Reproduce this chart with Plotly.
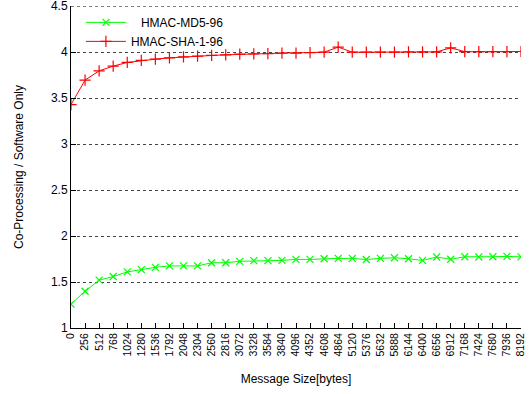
import plotly.graph_objects as go

msg_sizes = list(range(0, 8192 + 1, 256))
tick_labels = [str(v) for v in msg_sizes]
y_ticks = [1, 1.5, 2, 2.5, 3, 3.5, 4, 4.5]
y_tick_labels = ["1", "1.5", "2", "2.5", "3", "3.5", "4", "4.5"]

md5_ratio = [1.26, 1.40, 1.52, 1.56, 1.61, 1.635, 1.66, 1.675, 1.675, 1.675,
             1.71, 1.71, 1.725, 1.732, 1.732, 1.735, 1.746, 1.746, 1.753, 1.757,
             1.757, 1.745, 1.757, 1.764, 1.753, 1.735, 1.772, 1.748, 1.775, 1.772,
             1.775, 1.779, 1.773]

sha1_ratio = [3.43, 3.696, 3.797, 3.848, 3.888, 3.91, 3.924, 3.938, 3.949, 3.957,
              3.964, 3.971, 3.978, 3.982, 3.985, 3.989, 3.99, 3.995, 4.0, 4.055,
              4.0, 4.0, 4.0, 4.0, 4.002, 4.003, 4.003, 4.047, 4.005, 4.005,
              4.006, 4.006, 4.007]

font = "Liberation Sans, Arial, Helvetica, sans-serif"
NB = "\u00a0"

fig = go.Figure()
fig.add_trace(go.Scatter(
    x=msg_sizes, y=md5_ratio, mode="lines+markers",
    name=NB * 3 + "HMAC-MD5-96",
    line=dict(color="#00ff00", width=1),
    marker=dict(symbol="x-thin", size=7, color="#00ff00",
                line=dict(color="#00ff00", width=1.2)),
))
fig.add_trace(go.Scatter(
    x=msg_sizes, y=sha1_ratio, mode="lines+markers",
    name="HMAC-SHA-1-96",
    line=dict(color="#ff0000", width=1),
    marker=dict(symbol="cross-thin", size=8, color="#ff0000",
                line=dict(color="#ff0000", width=1.2)),
))

# top dotted gridline (plotly drops the grid line at the plot edge)
fig.add_shape(type="line", xref="paper", yref="y", x0=0, x1=1,
              y0=y_ticks[-1], y1=y_ticks[-1],
              line=dict(color="#444444", width=1, dash="dot"), layer="below")

fig.update_layout(
    width=530, height=394,
    margin=dict(l=71, r=9, t=6, b=66, autoexpand=False),
    paper_bgcolor="white", plot_bgcolor="white",
    font=dict(family=font, size=12, color="black"),
    showlegend=True,
    legend=dict(x=0.022, y=0.98, xanchor="left", yanchor="top",
                yref="container",
                bgcolor="rgba(0,0,0,0)", font=dict(size=12),
                tracegroupgap=0, itemwidth=40),
    xaxis=dict(
        range=[0, 8192], tickmode="array", tickvals=msg_sizes, ticktext=tick_labels,
        tickangle=-90, ticks="inside", ticklen=5, tickcolor="black",
        showline=True, linecolor="black", linewidth=1, mirror=False,
        showgrid=False, zeroline=False, tickfont=dict(size=10.5),
        automargin=False, ticklabeloverflow="allow",
        title=dict(text="Message Size[bytes]", font=dict(size=12), standoff=19),
    ),
    yaxis=dict(
        range=[1, 4.502], tickmode="array", tickvals=y_ticks, ticktext=y_tick_labels,
        ticks="inside", ticklen=5, tickcolor="black",
        showline=True, linecolor="black", linewidth=1, mirror=False,
        showgrid=True, gridcolor="#444444", griddash="dot", gridwidth=1,
        zeroline=False, tickfont=dict(size=12), automargin=False,
        ticklabeloverflow="allow",
        title=dict(text="Co-Processing / Software Only", font=dict(size=12), standoff=24),
    ),
)

fig.write_html(
    "out.html",
    config={"displayModeBar": False},
    post_script="document.body.style.margin='0';document.body.style.padding='0';",
)
